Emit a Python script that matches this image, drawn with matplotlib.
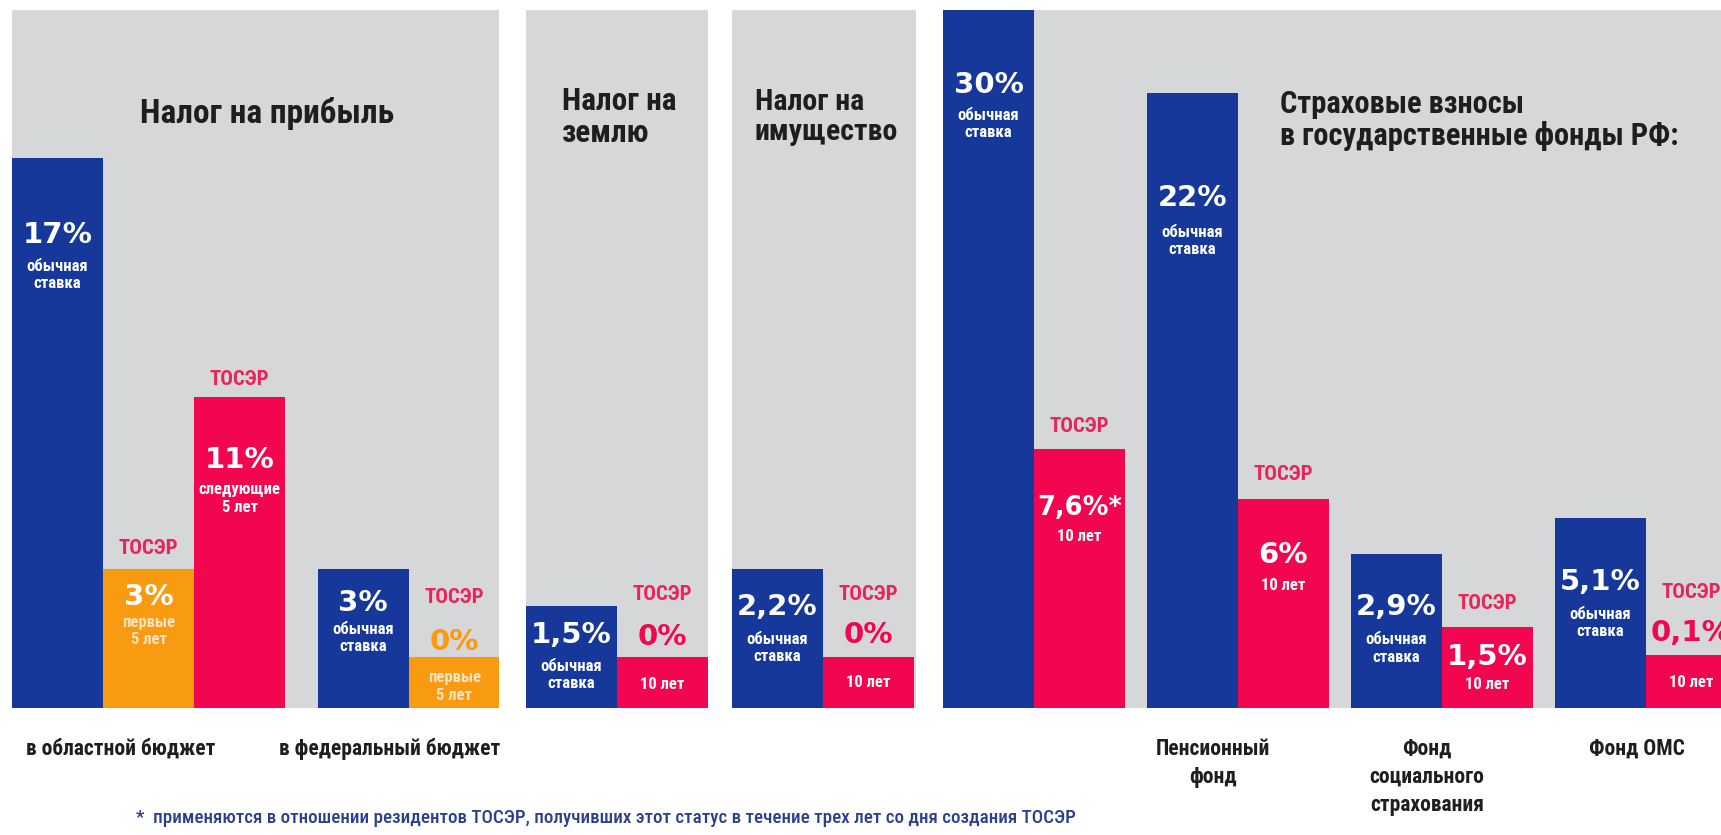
import matplotlib
matplotlib.use('Agg')
import matplotlib.pyplot as plt
from matplotlib import font_manager

# ---------- данные ----------
# высота столбиков дана в % от высоты серой панели (инфографика, не в масштабе ставок)
profit_rates = ['17%', '3%', '11%', '3%', '0%']
profit_notes = ['обычная\nставка', 'первые\n5 лет', 'следующие\n5 лет', 'обычная\nставка', 'первые\n5 лет']
profit_kinds = ['base', 'first', 'tosr', 'base', 'first']
profit_height = [78.8, 19.9, 44.6, 19.9, 7.3]

land_rates = ['1,5%', '0%']
land_notes = ['обычная\nставка', '10 лет']
land_kinds = ['base', 'tosr']
land_height = [14.6, 7.3]

property_rates = ['2,2%', '0%']
property_notes = ['обычная\nставка', '10 лет']
property_kinds = ['base', 'tosr']
property_height = [19.9, 7.3]

fund_rates = ['30%', '7,6%*', '22%', '6%', '2,9%', '1,5%', '5,1%', '0,1%']
fund_notes = ['обычная\nставка', '10 лет'] * 4
fund_kinds = ['base', 'tosr'] * 4
fund_height = [100, 37.1, 88.1, 29.9, 22.1, 11.6, 27.2, 7.6]

titles = ['Налог на прибыль', 'Налог на\nземлю', 'Налог на\nимущество',
          'Страховые взносы\nв государственные фонды РФ:']
group_labels = [['в областной бюджет', 'в федеральный бюджет'], [], [],
                ['Пенсионный\nфонд', 'Фонд\nсоциального\nстрахования', 'Фонд ОМС']]
tag = 'ТОСЭР'
footnote = '*  применяются в отношении резидентов ТОСЭР, получивших этот статус в течение трех лет со дня создания ТОСЭР'

# ---------- раскладка ----------
W, H = 1721, 835
BASE, TOP = 708, 10
panel_px = [(12, 499), (526, 708), (732, 916), (943, 1721)]
groups = [[3, 2], [2], [2], [2, 2, 2, 2]]
gaps = [0.36, 0, 0, 0.24]

rate_y = [[67.8, 15.9, 35.5, 15.0, 9.5], [10.5, 10.2], [14.5, 10.5],
          [89.3, 28.7, 73.1, 21.9, 14.5, 7.3, 18.1, 10.7]]
note_y = [[62.0, 11.0, 30.0, 10.0, 3.1], [4.7, 3.3], [8.6, 3.6],
          [83.7, 24.5, 66.9, 17.6, 8.5, 3.3, 12.2, 3.6]]
tag_y = [[None, 22.9, 47.0, None, 15.9], [None, 16.2], [None, 16.2],
         [None, 40.3, None, 33.4, None, 15.0, None, 16.5]]
group_label_x = [[1.19, 4.15], [], [], [2.97, 5.32, 7.63]]
title_pos = [(267, 113, 'center', 24), (562, 117, 'left', 22.5),
             (755, 117, 'left', 21.5), (1280, 120, 'left', 22)]

BLUE = '#15389a'
PINK = '#f2064f'
ORANGE = '#f89b10'
GRAY = '#d6d7d8'
TAGPINK = '#e8245a'
DARK = '#1e1e1e'
colors = {'base': BLUE, 'tosr': PINK, 'first': ORANGE}

have = {f.name for f in font_manager.fontManager.ttflist}
COND = [n for n in ['Roboto Condensed', 'Liberation Sans Narrow', 'DejaVu Sans Condensed'] if n in have] + ['DejaVu Sans']
NUM = ['DejaVu Sans']

panels = [
    (profit_rates, profit_notes, profit_kinds, profit_height),
    (land_rates, land_notes, land_kinds, land_height),
    (property_rates, property_notes, property_kinds, property_height),
    (fund_rates, fund_notes, fund_kinds, fund_height),
]

fig = plt.figure(figsize=(W / 100, H / 100), dpi=100)
fig.patch.set_facecolor('white')

BARW = 91.0  # px per bar unit

for i, (rates, notes, kinds, heights) in enumerate(panels):
    x0, x1 = panel_px[i]
    ax = fig.add_axes([x0 / W, (H - BASE) / H, (x1 - x0) / W, (BASE - TOP) / H])
    ax.set_facecolor(GRAY)
    ax.set_xlim(0, (x1 - x0) / BARW)
    ax.set_ylim(0, 100)
    ax.set_axis_off()
    ax.add_patch(plt.Rectangle((0, 0), 1, 1, transform=ax.transAxes, color=GRAY, zorder=0))

    # позиции столбиков по группам
    xs = []
    pos = 0.0
    for n in groups[i]:
        for k in range(n):
            xs.append(pos + k)
        pos += n + gaps[i]

    ax.bar(xs, heights, width=1.0, align='edge',
           color=[colors[k] for k in kinds], linewidth=0, zorder=2)

    for j, x in enumerate(xs):
        cx = x + 0.5
        inside = rate_y[i][j] < heights[j]
        rc = 'white' if inside else colors[kinds[j]]
        fs = 21 if len(rates[j]) <= 4 else 18.5
        ax.text(cx, rate_y[i][j], rates[j], ha='center', va='center', color=rc,
                fontsize=fs, fontweight='bold', family=NUM, zorder=3)
        nc = '#fde3c6' if kinds[j] == 'first' else 'white'
        ax.text(cx, note_y[i][j], notes[j], ha='center', va='center', color=nc,
                fontsize=12, fontweight='bold', family=COND, fontstretch='condensed',
                linespacing=1.2, zorder=3)
        if tag_y[i][j] is not None:
            ax.text(cx, tag_y[i][j], tag, ha='center', va='center', color=TAGPINK,
                    fontsize=15, fontweight='bold', family=COND, fontstretch='condensed', zorder=3)

    for lx, lab in zip(group_label_x[i], group_labels[i]):
        ax.text(lx, -4.3, lab, ha='center', va='top', color=DARK, fontsize=15.5,
                fontweight='bold', family=COND, fontstretch='condensed',
                linespacing=1.35, clip_on=False)

    tx, ty, tha, tfs = title_pos[i]
    fig.text(tx / W, 1 - ty / H, titles[i], ha=tha, va='center', color=DARK,
             fontsize=tfs, fontweight='bold', family=COND, fontstretch='condensed',
             linespacing=1.1, zorder=5)

fig.text(136 / W, 1 - 818 / H, footnote, ha='left', va='center', color='#2b3f91',
         fontsize=13.7, fontweight='medium', family=COND, fontstretch='condensed')

fig.savefig('out.png', dpi=100, facecolor='white')
